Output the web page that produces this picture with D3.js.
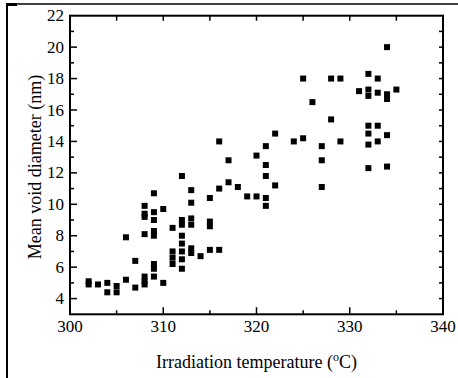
<!DOCTYPE html>
<html>
<head>
<meta charset="utf-8">
<script src="https://cdn.jsdelivr.net/npm/d3@7"></script>
<style>
  body { margin: 0; background: #fff; }
</style>
</head>
<body>
<div id="chart"></div>
<script>
const width = 458;
const height = 378;

// irradiation temperature (C) and the void diameters measured at each one (nm)
const temps = [302, 303, 304, 305, 306, 307, 308, 309, 310, 311, 312, 313, 314, 315,
  316, 317, 318, 319, 320, 321, 322, 324, 325, 326, 327, 328, 329, 331, 332, 333, 334, 335];
const diameters = [
  [5.1, 4.9],
  [4.9],
  [5.0, 4.4],
  [4.8, 4.4],
  [5.2, 7.9],
  [4.7, 6.4],
  [9.9, 9.4, 9.2, 8.1, 5.4, 5.1, 4.9],
  [10.7, 9.5, 9.0, 8.3, 8.0, 6.2, 5.9, 5.4],
  [9.7, 5.0],
  [8.5, 7.0, 6.6, 6.2],
  [11.8, 9.0, 8.7, 8.0, 7.5, 7.0, 6.5, 5.9],
  [10.9, 10.1, 9.1, 8.7, 7.2, 6.9],
  [6.7],
  [10.4, 8.9, 8.6, 7.1],
  [14.0, 11.0, 7.1],
  [12.8, 11.4],
  [11.1],
  [10.5],
  [13.1, 10.5],
  [13.7, 12.5, 11.8, 10.4, 9.9],
  [14.5, 11.2],
  [14.0],
  [18.0, 14.2],
  [16.5],
  [13.7, 12.8, 11.1],
  [18.0, 15.4],
  [18.0, 14.0],
  [17.2],
  [18.3, 17.3, 16.9, 15.0, 14.5, 13.8, 12.3],
  [18.0, 17.1, 15.0, 14.0],
  [20.0, 17.0, 16.7, 14.4, 12.4],
  [17.3]
];
const xTicks = [300, 310, 320, 330, 340];
const yTicks = [4, 6, 8, 10, 12, 14, 16, 18, 20, 22];

const points = [];
temps.forEach(function (t, i) {
  diameters[i].forEach(function (d) { points.push([t, d]); });
});

const pLeft = 70, pRight = 443, pTop = 15.7, pBottom = 314.3;
const font = "'Liberation Serif', 'DejaVu Serif', serif";

const svg = d3.select("#chart").append("svg")
  .attr("width", width)
  .attr("height", height)
  .attr("font-family", font);

// cropped figure border
svg.append("line").attr("x1", 6).attr("x2", width).attr("y1", 4).attr("y2", 4)
  .attr("stroke", "#000").attr("stroke-width", 1.5);
svg.append("line").attr("x1", 7).attr("x2", 7).attr("y1", 3).attr("y2", height)
  .attr("stroke", "#000").attr("stroke-width", 2);
svg.append("line").attr("x1", 6).attr("x2", 17).attr("y1", 4.5).attr("y2", 4.5)
  .attr("stroke", "#000").attr("stroke-width", 3);

const x = d3.scaleLinear().domain([300, 340]).range([pLeft, pRight]);
const y = d3.scaleLinear().domain([3, 22]).range([pBottom, pTop]);

// ticks (inward)
const tk = svg.append("g").attr("stroke", "#000").attr("stroke-width", 1.5);
d3.range(300, 341, 5).forEach(function (v) {
  const major = v % 10 === 0;
  if (v > 300 && v < 340) {
    tk.append("line").attr("x1", x(v)).attr("x2", x(v))
      .attr("y1", pBottom).attr("y2", pBottom - (major ? 7 : 4));
    tk.append("line").attr("x1", x(v)).attr("x2", x(v))
      .attr("y1", pTop).attr("y2", pTop + 5);
  }
});
d3.range(4, 22, 1).forEach(function (v) {
  const major = v % 2 === 0;
  tk.append("line").attr("x1", pLeft).attr("x2", pLeft + (major ? 7 : 4))
    .attr("y1", y(v)).attr("y2", y(v));
  tk.append("line").attr("x1", pRight).attr("x2", pRight - 4)
    .attr("y1", y(v)).attr("y2", y(v));
});

// frame
svg.append("rect")
  .attr("x", pLeft).attr("y", pTop)
  .attr("width", pRight - pLeft).attr("height", pBottom - pTop)
  .attr("fill", "none").attr("stroke", "#000").attr("stroke-width", 2);

// tick labels
svg.append("g").selectAll("text").data(xTicks).enter().append("text")
  .attr("x", function (d) { return x(d); })
  .attr("y", 332)
  .attr("text-anchor", "middle")
  .attr("font-size", 17)
  .text(function (d) { return d; });

svg.append("g").selectAll("text").data(yTicks).enter().append("text")
  .attr("x", pLeft - 6)
  .attr("y", function (d) { return y(d); })
  .attr("dy", "0.33em")
  .attr("text-anchor", "end")
  .attr("font-size", 17)
  .text(function (d) { return d; });

// axis titles
const xt = svg.append("text")
  .attr("x", (pLeft + pRight) / 2)
  .attr("y", 368)
  .attr("text-anchor", "middle")
  .attr("font-size", 18);
xt.append("tspan").text("Irradiation temperature (");
xt.append("tspan").attr("font-size", 12).attr("dy", -7).text("o");
xt.append("tspan").attr("dy", 7).text("C)");

svg.append("text")
  .attr("transform", "translate(41," + ((pTop + pBottom) / 2 + 2) + ") rotate(-90)")
  .attr("text-anchor", "middle")
  .attr("font-size", 18)
  .text("Mean void diameter (nm)");

// points
svg.append("g").selectAll("rect").data(points).enter().append("rect")
  .attr("x", function (d) { return x(d[0]) - 3; })
  .attr("y", function (d) { return y(d[1]) - 3; })
  .attr("width", 6)
  .attr("height", 6)
  .attr("fill", "#000");
</script>
</body>
</html>
